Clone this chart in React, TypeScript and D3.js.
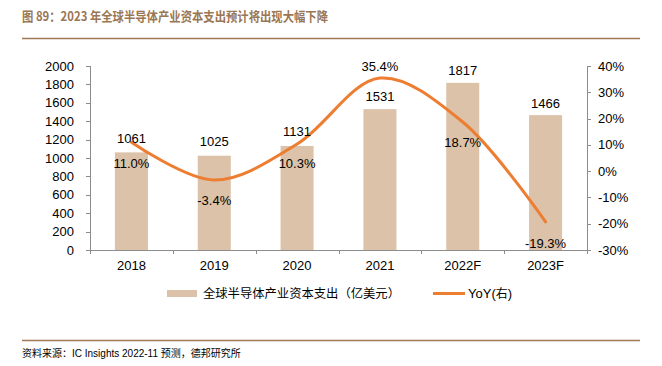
import React from "react";
import * as d3 from "d3";

const categories = ["2018", "2019", "2020", "2021", "2022F", "2023F"];
const capex = [1061, 1025, 1131, 1531, 1817, 1466];
const yoy = [11.0, -3.4, 10.3, 35.4, 18.7, -19.3];
const leftTicks = [0, 200, 400, 600, 800, 1000, 1200, 1400, 1600, 1800, 2000];
const rightTicks = [-30, -20, -10, 0, 10, 20, 30, 40];
const title = "图 89：2023 年全球半导体产业资本支出预计将出现大幅下降";
const legendBar = "全球半导体产业资本支出（亿美元）";

const W = 662, H = 366;
const plotL = 90, plotR = 587, plotT = 66, plotB = 250;
const BAR_COLOR = "#dbc2a8";
const LINE_COLOR = "#ed7d31";
const AXIS_COLOR = "#8c8c8c";
const TITLE_COLOR = "#9a7653";
const FONT = "'Liberation Sans', Arial, sans-serif";
const CJK = "'Noto Sans CJK SC', sans-serif";

// label vertical offsets (text positions relative to marks)
const barLabelDy = [-9, -10, -10, -8, -8, -7];
const yoyLabelDy = [26, 25, 24, -7, 25, 26];

export default function App() {
  const step = (plotR - plotL) / categories.length;
  const bw = 33;
  const yL = d3.scaleLinear().domain([0, 2000]).range([plotB, plotT]);
  const yR = d3.scaleLinear().domain([-30, 40]).range([plotB, plotT]);
  const cx = (i: number) => plotL + step * (i + 0.5);

  const line = d3
    .line<number>()
    .x((_, i) => cx(i))
    .y((d) => yR(d))
    .curve(d3.curveCatmullRom.alpha(0.5));

  return (
    <svg width={W} height={H} style={{ position: "absolute", left: 0, top: 0, background: "#fff" }}>
      <text x={22} y={20.5} fontFamily={CJK} fontWeight="bold" fontSize={13} fill={TITLE_COLOR} textLength={306} lengthAdjust="spacingAndGlyphs">
        {title}
      </text>
      <line x1={22} x2={640} y1={38.5} y2={38.5} stroke="#a07a55" strokeWidth={1.5} />

      {/* bars */}
      {capex.map((v, i) => (
        <rect key={"b" + i} x={cx(i) - bw / 2} y={yL(v)} width={bw} height={plotB - yL(v)} fill={BAR_COLOR} />
      ))}

      {/* axes */}
      <line x1={plotL + 0.5} x2={plotL + 0.5} y1={plotT} y2={plotB} stroke={AXIS_COLOR} />
      <line x1={plotR + 0.5} x2={plotR + 0.5} y1={plotT} y2={plotB} stroke={AXIS_COLOR} />
      <line x1={plotL} x2={plotR} y1={plotB + 0.5} y2={plotB + 0.5} stroke={AXIS_COLOR} />
      {leftTicks.map((t) => (
        <g key={"lt" + t}>
          <line x1={plotL - 4} x2={plotL} y1={Math.round(yL(t)) + 0.5} y2={Math.round(yL(t)) + 0.5} stroke={AXIS_COLOR} />
          <text x={74} y={yL(t) + 4.5} textAnchor="end" fontFamily={FONT} fontSize={13} fill="#000">
            {t}
          </text>
        </g>
      ))}
      {rightTicks.map((t) => (
        <g key={"rt" + t}>
          <line x1={plotR} x2={plotR + 4} y1={Math.round(yR(t)) + 0.5} y2={Math.round(yR(t)) + 0.5} stroke={AXIS_COLOR} />
          <text x={598} y={yR(t) + 4.5} textAnchor="start" fontFamily={FONT} fontSize={13} fill="#000">
            {t + "%"}
          </text>
        </g>
      ))}
      {d3.range(categories.length + 1).map((i) => (
        <line key={"xt" + i} x1={Math.round(plotL + step * i) + 0.5} x2={Math.round(plotL + step * i) + 0.5} y1={plotB} y2={plotB + 4} stroke={AXIS_COLOR} />
      ))}
      {categories.map((c, i) => (
        <text key={"c" + c} x={cx(i)} y={270} textAnchor="middle" fontFamily={FONT} fontSize={13} fill="#000">
          {c}
        </text>
      ))}

      {/* line */}
      <path d={line(yoy) || ""} fill="none" stroke={LINE_COLOR} strokeWidth={3} strokeLinecap="round" />

      {/* data labels */}
      {capex.map((v, i) => (
        <text key={"bl" + i} x={cx(i)} y={yL(v) + barLabelDy[i]} textAnchor="middle" fontFamily={FONT} fontSize={13} fill="#000">
          {v}
        </text>
      ))}
      {yoy.map((v, i) => (
        <text key={"yl" + i} x={cx(i)} y={yR(v) + yoyLabelDy[i]} textAnchor="middle" fontFamily={FONT} fontSize={13} fill="#000">
          {v.toFixed(1) + "%"}
        </text>
      ))}

      {/* legend */}
      <rect x={167} y={290} width={30} height={7} fill={BAR_COLOR} />
      <text x={203} y={298} fontFamily={CJK} fontSize={12} fill="#000" textLength={197} lengthAdjust="spacingAndGlyphs">
        {legendBar}
      </text>
      <line x1={433} x2={465} y1={293.5} y2={293.5} stroke={LINE_COLOR} strokeWidth={3} />
      <text x={468} y={298} fontFamily={FONT} fontSize={13} fill="#000">
        YoY(<tspan fontFamily={CJK} fontSize={12}>右</tspan>)
      </text>

      <line x1={22} x2={640} y1={340.5} y2={340.5} stroke="#a07a55" strokeWidth={1.5} />
      <text x={22} y={357} fontFamily={CJK} fontSize={10} fill="#000">
        资料来源：<tspan fontFamily={FONT}>IC Insights 2022-11 </tspan>预测，德邦研究所
      </text>
    </svg>
  );
}
